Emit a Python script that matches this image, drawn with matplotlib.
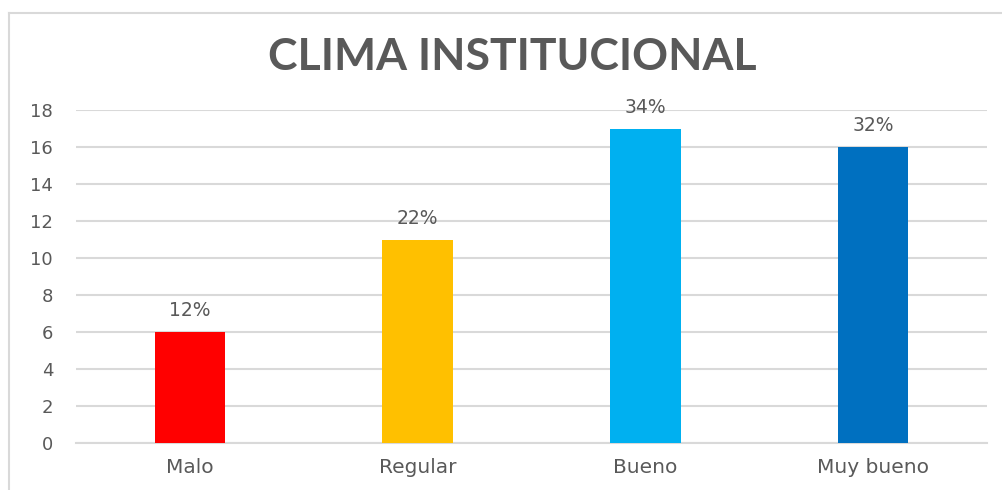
import matplotlib
matplotlib.use("Agg")
import matplotlib.pyplot as plt
from matplotlib.lines import Line2D

categories = ["Malo", "Regular", "Bueno", "Muy bueno"]
values = [6, 11, 17, 16]
labels = ["12%", "22%", "34%", "32%"]
colors = ["#FF0000", "#FFC000", "#00B0F0", "#0070C0"]
yticks = [0, 2, 4, 6, 8, 10, 12, 14, 16, 18]

text_color = "#595959"
grid_color = "#D9D9D9"

fig = plt.figure(figsize=(10.02, 4.9), dpi=100)
ax = fig.add_axes([76/1002, 1-443/490, (987-76)/1002, (443-110)/490])

x = list(range(len(categories)))
bars = ax.bar(x, values, width=0.31, color=colors, zorder=3)
ax.set_xlim(-0.5, len(categories) - 0.5)
ax.set_ylim(0, 18)
ax.set_yticks(yticks)
ax.set_yticklabels([str(v) for v in yticks], fontsize=13, color=text_color, family="DejaVu Sans")
ax.set_xticks(x)
ax.set_xticklabels(categories, fontsize=14.5, color=text_color, family="DejaVu Sans")
ax.tick_params(axis="y", length=0, pad=16.5)
ax.tick_params(axis="x", length=0, pad=11)
ax.grid(axis="y", color=grid_color, linewidth=1.5, zorder=0)
for s in ["top", "right", "left"]:
    ax.spines[s].set_visible(False)
ax.spines["bottom"].set_color(grid_color)
ax.spines["bottom"].set_linewidth(1.5)

for xi, v, lab in zip(x, values, labels):
    ax.annotate(lab, (xi, v), xytext=(0, 11.5), textcoords="offset points",
                ha="center", va="baseline", fontsize=13.5, color=text_color, family="DejaVu Sans")

fig.text(512/1002, 1-57/490, "CLIMA INSTITUCIONAL", ha="center", va="center",
         fontsize=32, fontweight="bold", color=text_color, family="Lato")

fig.add_artist(Line2D([9/1002, 1], [1-13/490, 1-13/490], color=grid_color, lw=1.5, transform=fig.transFigure))
fig.add_artist(Line2D([9/1002, 9/1002], [0, 1-13/490], color=grid_color, lw=1.5, transform=fig.transFigure))

fig.savefig("out.png", dpi=100)
